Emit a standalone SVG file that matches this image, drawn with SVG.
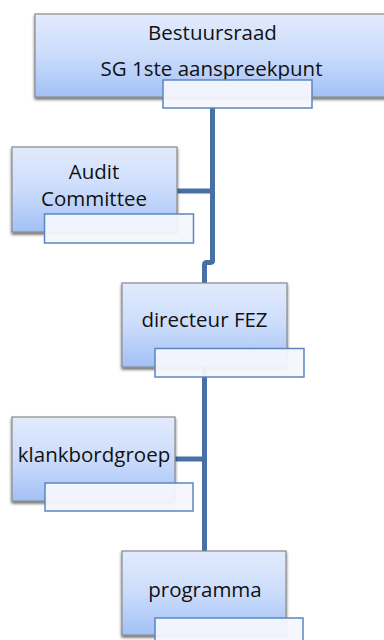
<svg xmlns="http://www.w3.org/2000/svg" width="384" height="640" viewBox="0 0 384 640">
<defs>
<linearGradient id="g" x1="0" y1="0" x2="0" y2="1">
<stop offset="0" stop-color="#e2ebfd"/>
<stop offset="0.5" stop-color="#cbdcfb"/>
<stop offset="1" stop-color="#a2c1f6"/>
</linearGradient>
<filter id="sh" x="-10%" y="-10%" width="125%" height="130%">
<feGaussianBlur in="SourceAlpha" stdDeviation="1.6"/>
<feOffset dx="0" dy="2" result="b"/>
<feComponentTransfer><feFuncA type="linear" slope="0.6"/></feComponentTransfer>
<feMerge><feMergeNode/><feMergeNode in="SourceGraphic"/></feMerge>
</filter>
</defs>
<style>
.box{fill:url(#g);stroke:#8a8a8a;stroke-width:1.2;filter:url(#sh)}
.lbl{fill:#f4f7fd;fill-opacity:0.95;stroke:#5b86c1;stroke-width:1.5}
.t{font-family:"Open Sans","Liberation Sans",sans-serif;font-size:20.5px;fill:#111;text-anchor:middle}
.c{fill:none;stroke:#4670a6;stroke-width:5;stroke-linejoin:round}
</style>
<rect width="384" height="640" fill="#fff"/>
<g id="connectors">
<path class="c" d="M212.5 108 V261 Q212.5 262.5 210 262.5 H207 Q204.5 262.5 204.5 265 V283"/>
<path class="c" d="M177 191 H212.5"/>
<path class="c" d="M204.5 367 V552"/>
<path class="c" d="M175 459 H204.5"/>
</g>
<g id="bestuursraad">
<rect class="box" x="35" y="14" width="360" height="83"/>
<text class="t" x="212.5" y="40">Bestuursraad</text>
<text class="t" x="211.5" y="76">SG 1ste aanspreekpunt</text>
<rect class="lbl" x="163" y="80" width="149" height="28"/>
</g>
<g id="audit">
<rect class="box" x="12" y="147" width="165" height="85"/>
<text class="t" x="94" y="179">Audit</text>
<text class="t" x="94" y="206">Committee</text>
<rect class="lbl" x="44.5" y="214" width="149" height="29"/>
</g>
<g id="directeur">
<rect class="box" x="122" y="283" width="165" height="84"/>
<text class="t" x="204.5" y="327">directeur FEZ</text>
<rect class="lbl" x="155" y="348.5" width="149" height="28.5"/>
</g>
<g id="klankbordgroep">
<rect class="box" x="12" y="417" width="163" height="84"/>
<text class="t" x="94" y="462">klankbordgroep</text>
<rect class="lbl" x="45" y="483" width="148" height="28"/>
</g>
<g id="programma">
<rect class="box" x="122" y="551" width="164" height="84"/>
<text class="t" x="205" y="597">programma</text>
<rect class="lbl" x="155" y="618" width="148" height="28"/>
</g>
</svg>
